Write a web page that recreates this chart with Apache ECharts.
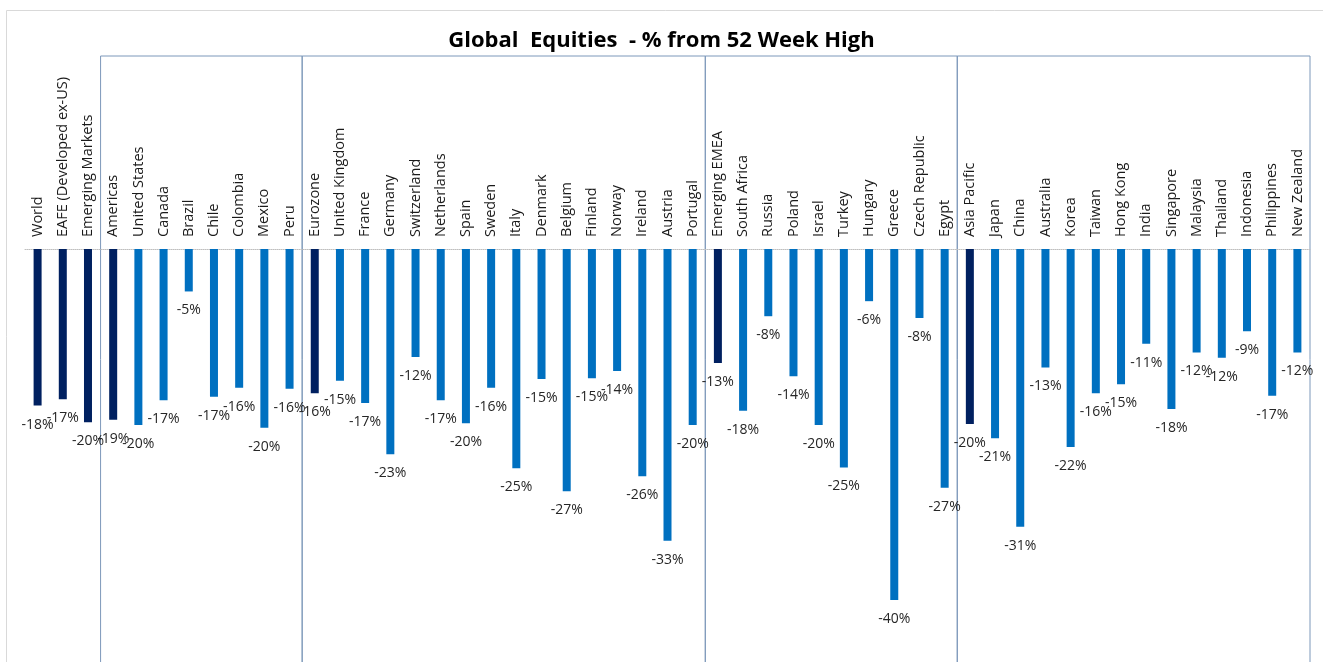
<!DOCTYPE html>
<html>
<head>
<meta charset="utf-8">
<script src="https://cdn.jsdelivr.net/npm/echarts@6/dist/echarts.min.js"></script>
<style>
  html, body { margin: 0; padding: 0; background: #fff; }
  #chart { width: 1323px; height: 662px; }
</style>
</head>
<body>
<div id="chart"></div>
<script>
// categories in chart order
const categories = [
  'World', 'EAFE (Developed ex-US)', 'Emerging Markets',
  'Americas', 'United States', 'Canada', 'Brazil', 'Chile', 'Colombia', 'Mexico', 'Peru',
  'Eurozone', 'United Kingdom', 'France', 'Germany', 'Switzerland', 'Netherlands', 'Spain',
  'Sweden', 'Italy', 'Denmark', 'Belgium', 'Finland', 'Norway', 'Ireland', 'Austria', 'Portugal',
  'Emerging EMEA', 'South Africa', 'Russia', 'Poland', 'Israel', 'Turkey', 'Hungary', 'Greece',
  'Czech Republic', 'Egypt',
  'Asia Pacific', 'Japan', 'China', 'Australia', 'Korea', 'Taiwan', 'Hong Kong', 'India',
  'Singapore', 'Malaysia', 'Thailand', 'Indonesia', 'Philippines', 'New Zealand'
];

// % from 52 week high
const values = [
  -17.7, -17.0, -19.6,
  -19.3, -19.9, -17.1, -4.8, -16.7, -15.7, -20.2, -15.8,
  -16.3, -14.9, -17.4, -23.2, -12.2, -17.1, -19.7,
  -15.7, -24.8, -14.7, -27.4, -14.6, -13.8, -25.7, -33.0, -19.9,
  -12.9, -18.3, -7.6, -14.4, -19.9, -24.7, -5.9, -39.7,
  -7.8, -27.0,
  -19.8, -21.4, -31.4, -13.4, -22.4, -16.3, -15.3, -10.7,
  -18.1, -11.7, -12.3, -9.3, -16.6, -11.7
];

// regional aggregates drawn in dark navy
const totals = ['World', 'EAFE (Developed ex-US)', 'Emerging Markets', 'Americas', 'Eurozone', 'Emerging EMEA', 'Asia Pacific'];

// category index where each framed region starts (last one = end)
const groupEdges = [3, 11, 27, 37, 51];

let myChart = echarts.init(document.getElementById('chart'));

myChart.setOption({
  animation: false,
  title: {
    text: 'Global  Equities  - % from 52 Week High',
    left: 'center',
    top: 25,
    textStyle: {
      fontFamily: 'Open Sans',
      fontSize: 22,
      fontWeight: 'bold',
      color: '#000'
    }
  },
  grid: {
    left: 25,
    right: 13,
    top: 249,
    height: 398
  },
  xAxis: {
    type: 'category',
    position: 'top',
    data: categories,
    axisLine: {
      lineStyle: { color: '#bfbfbf', type: 'dotted', width: 1 }
    },
    axisTick: { show: false },
    axisLabel: {
      rotate: 90,
      interval: 0,
      margin: 12,
      fontFamily: 'Open Sans',
      fontSize: 14.5,
      color: '#1a1a1a'
    }
  },
  yAxis: {
    type: 'value',
    min: -45,
    max: 0,
    show: false,
    splitLine: { show: false }
  },
  series: [
    {
      type: 'bar',
      barWidth: 8,
      data: values.map((v, i) => ({
        value: v,
        itemStyle: { color: totals.includes(categories[i]) ? '#002060' : '#0070c0' }
      })),
      label: {
        show: true,
        position: 'bottom',
        distance: 12,
        fontFamily: 'Open Sans',
        fontSize: 14,
        color: '#262626',
        formatter: p => Math.round(p.value) + '%'
      }
    }
  ]
});

// region frames, placed from the category axis
let c0 = myChart.convertToPixel({ xAxisIndex: 0 }, categories[0]);
let c1 = myChart.convertToPixel({ xAxisIndex: 0 }, categories[1]);
let band = c1 - c0;
let edgeX = idx => c0 + (idx - 0.5) * band;

let frames = [];
for (let g = 0; g < groupEdges.length - 1; g++) {
  let x1 = edgeX(groupEdges[g]);
  let x2 = edgeX(groupEdges[g + 1]);
  frames.push({
    type: 'rect',
    shape: { x: x1, y: 56, width: x2 - x1, height: 700 },
    style: { fill: null, stroke: '#7d98ba', lineWidth: 1 },
    z: 0
  });
}
// outer chart border
frames.push({
  type: 'rect',
  shape: { x: 6.5, y: 10.5, width: 1400, height: 700 },
  style: { fill: null, stroke: '#d9d9d9', lineWidth: 1 },
  z: 0
});

myChart.setOption({ graphic: frames });
</script>
</body>
</html>
